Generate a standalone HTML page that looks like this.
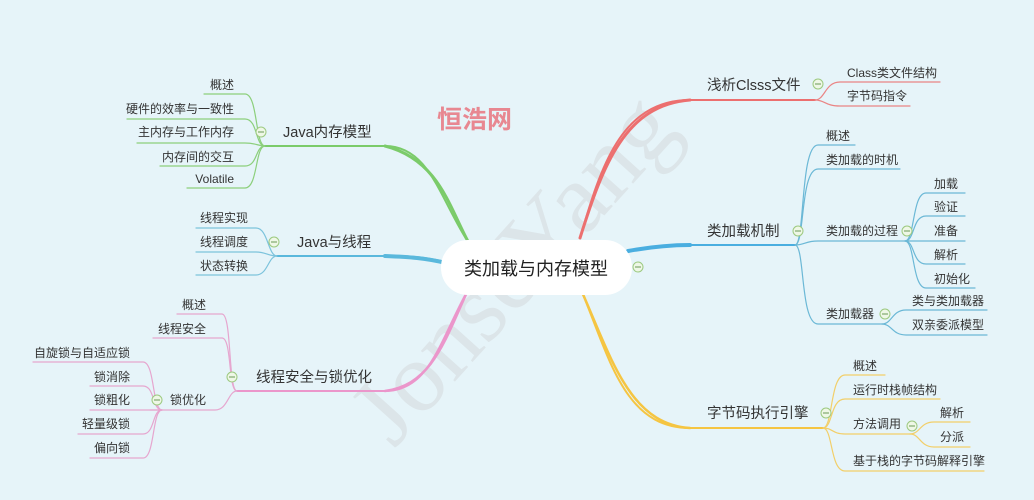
<!DOCTYPE html>
<html><head><meta charset="utf-8"><style>
html,body{margin:0;padding:0;background:#e6f4f9;width:1034px;height:500px;overflow:hidden}
svg{display:block}
text{font-family:"Liberation Sans","Noto Sans CJK SC",sans-serif;fill:#333}
.c{font-size:12px}
.m{font-size:14.5px}
</style></head><body>
<svg width="1034" height="500" viewBox="0 0 1034 500" xmlns="http://www.w3.org/2000/svg">
<rect width="1034" height="500" fill="#e6f4f9"/>
<text x="515" y="300" transform="rotate(-48 515 270)" font-size="100" style="font-family:'Liberation Serif',serif;fill:#d6dcdf;opacity:.6" text-anchor="middle">JonseYang</text>
<text x="437" y="128" font-size="25" style="fill:#e9747f;font-weight:bold;opacity:.85">恒浩网</text>

<g fill="none" stroke-linecap="round">
<path d="M470 245 C440 200 430 146 385 146 L265 146" stroke="#7bcb6a" stroke-width="2"/>
<path d="M470 245 C450 210 440 160 385 146" stroke="#7bcb6a" stroke-width="3"/>
<path d="M446 262 C420 256 405 256 385 256 L277 256" stroke="#5ab8dc" stroke-width="2"/>
<path d="M446 263 C425 258 410 257 385 256" stroke="#5ab8dc" stroke-width="4"/>
<path d="M468 290 C440 340 430 391 385 391 L237 391" stroke="#eb96cb" stroke-width="2"/>
<path d="M468 290 C445 340 432 385 385 391" stroke="#eb96cb" stroke-width="2.5"/>
<path d="M580 238 C600 170 620 100 690 100 L815 100" stroke="#ec6f6f" stroke-width="2"/>
<path d="M580 238 C603 165 625 105 690 100" stroke="#ec6f6f" stroke-width="3"/>
<path d="M628 252 C650 246 665 245 690 245 L795 245" stroke="#4aaee0" stroke-width="2"/>
<path d="M628 251 C650 247 668 245 690 245" stroke="#4aaee0" stroke-width="4"/>
<path d="M582 292 C610 360 625 428 690 428 L823 428" stroke="#f5c542" stroke-width="2"/>
<path d="M582 292 C612 360 630 424 690 428" stroke="#f5c542" stroke-width="2.5"/>

<g stroke="#8ccf7c" stroke-width="1.2">
<path d="M265 146 C255 146 258 94 245 94 L204 94"/>
<path d="M265 146 C255 146 258 119 245 119 L127 119"/>
<path d="M265 146 C258 146 256 143 245 143 L137 143"/>
<path d="M265 146 C255 146 258 166 245 166 L160 166"/>
<path d="M265 146 C255 146 258 188 245 188 L187 188"/>
</g>
<g stroke="#7cc3dc" stroke-width="1.2">
<path d="M277 256 C268 256 268 228 256 228 L196 228"/>
<path d="M277 256 C268 256 266 252 256 252 L196 252"/>
<path d="M277 256 C268 256 268 275 256 275 L196 275"/>
</g>
<g stroke="#e6a6cf" stroke-width="1.2">
<path d="M237 391 C228 391 232 314 222 314 L177 314"/>
<path d="M237 391 C228 391 232 338 222 338 L153 338"/>
<path d="M237 391 C228 391 228 410 215 410 L150 410"/>
<path d="M162 410 C152 410 155 362 143 362 L33 362"/>
<path d="M162 410 C152 410 155 386 143 386 L90 386"/>
<path d="M162 410 C155 410 152 410 143 410 L90 410"/>
<path d="M162 410 C152 410 155 434 143 434 L78 434"/>
<path d="M162 410 C152 410 155 458 143 458 L90 458"/>
</g>
<g stroke="#ea8484" stroke-width="1.2">
<path d="M815 100 C825 100 825 82 840 82 L940 82"/>
<path d="M815 100 C825 100 825 106 840 106 L910 106"/>
</g>
<g stroke="#6bb8d6" stroke-width="1.2">
<path d="M795 245 C805 245 800 145 818 145 L855 145"/>
<path d="M795 245 C805 245 800 169 818 169 L900 169"/>
<path d="M795 245 C805 245 805 241 818 241 L905 241"/>
<path d="M795 245 C805 245 800 324 818 324 L882 324"/>
<path d="M905 241 C915 241 912 193 926 193 L965 193"/>
<path d="M905 241 C915 241 912 216 926 216 L965 216"/>
<path d="M905 241 L965 241"/>
<path d="M905 241 C915 241 912 264 926 264 L965 264"/>
<path d="M905 241 C915 241 912 288 926 288 L975 288"/>
<path d="M882 324 C892 324 892 310 906 310 L987 310"/>
<path d="M882 324 C892 324 892 335 906 335 L987 335"/>
</g>
<g stroke="#f2cf6a" stroke-width="1.2">
<path d="M823 428 C833 428 830 375 845 375 L885 375"/>
<path d="M823 428 C833 428 830 399 845 399 L940 399"/>
<path d="M823 428 C833 428 832 434 845 434 L910 434"/>
<path d="M823 428 C833 428 830 471 845 471 L984 471"/>
<path d="M910 434 C920 434 920 422 934 422 L970 422"/>
<path d="M910 434 C920 434 920 447 934 447 L970 447"/>
</g>
</g>

<rect x="441" y="240" width="191" height="55" rx="27" fill="#fff"/>
<text x="536" y="275" font-size="18" text-anchor="middle" style="fill:#222">类加载与内存模型</text>

<g fill="#eef7e6" stroke="#9cc97f" stroke-width="1">
<circle cx="261" cy="132" r="5"/><circle cx="274" cy="242" r="5"/><circle cx="232" cy="377" r="5"/><circle cx="157" cy="400" r="5"/>
<circle cx="818" cy="84" r="5"/><circle cx="638" cy="267" r="5"/><circle cx="798" cy="231" r="5"/><circle cx="907" cy="231" r="5"/><circle cx="885" cy="314" r="5"/>
<circle cx="826" cy="413" r="5"/><circle cx="912" cy="426" r="5"/>
</g>
<g stroke="#6a9a55" stroke-width="1">
<path d="M258 132h6M271 242h6M229 377h6M154 400h6M815 84h6M635 267h6M795 231h6M904 231h6M882 314h6M823 413h6M909 426h6"/>
</g>

<text class="m" x="283" y="137">Java内存模型</text>
<text class="m" x="297" y="247">Java与线程</text>
<text class="m" x="256" y="382">线程安全与锁优化</text>
<text class="m" x="707" y="90">浅析Clsss文件</text>
<text class="m" x="707" y="236">类加载机制</text>
<text class="m" x="707" y="418">字节码执行引擎</text>

<g text-anchor="end">
<text class="c" x="234" y="89">概述</text>
<text class="c" x="234" y="113">硬件的效率与一致性</text>
<text class="c" x="234" y="136">主内存与工作内存</text>
<text class="c" x="234" y="161">内存间的交互</text>
<text class="c" x="234" y="183">Volatile</text>
<text class="c" x="248" y="222">线程实现</text>
<text class="c" x="248" y="246">线程调度</text>
<text class="c" x="248" y="270">状态转换</text>
<text class="c" x="206" y="309">概述</text>
<text class="c" x="206" y="333">线程安全</text>
<text class="c" x="206" y="404">锁优化</text>
<text class="c" x="130" y="357">自旋锁与自适应锁</text>
<text class="c" x="130" y="381">锁消除</text>
<text class="c" x="130" y="404">锁粗化</text>
<text class="c" x="130" y="428">轻量级锁</text>
<text class="c" x="130" y="452">偏向锁</text>
</g>
<g>
<text class="c" x="847" y="77">Class类文件结构</text>
<text class="c" x="847" y="100">字节码指令</text>
<text class="c" x="826" y="140">概述</text>
<text class="c" x="826" y="164">类加载的时机</text>
<text class="c" x="826" y="235">类加载的过程</text>
<text class="c" x="826" y="318">类加载器</text>
<text class="c" x="934" y="188">加载</text>
<text class="c" x="934" y="211">验证</text>
<text class="c" x="934" y="235">准备</text>
<text class="c" x="934" y="259">解析</text>
<text class="c" x="934" y="283">初始化</text>
<text class="c" x="912" y="305">类与类加载器</text>
<text class="c" x="912" y="329">双亲委派模型</text>
<text class="c" x="853" y="370">概述</text>
<text class="c" x="853" y="394">运行时栈帧结构</text>
<text class="c" x="853" y="428">方法调用</text>
<text class="c" x="853" y="465">基于栈的字节码解释引擎</text>
<text class="c" x="940" y="417">解析</text>
<text class="c" x="940" y="441">分派</text>
</g>
</svg>
</body></html>
